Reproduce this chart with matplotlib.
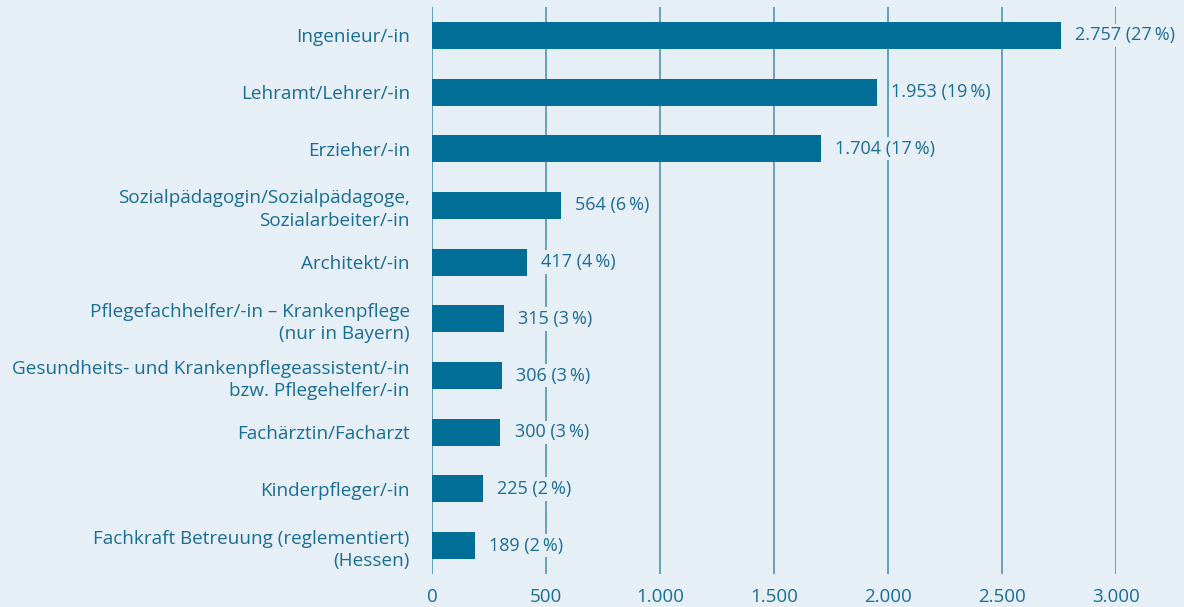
import matplotlib.pyplot as plt

# Daten aus der Grafik
berufe = [
    'Ingenieur/-in',
    'Lehramt/Lehrer/-in',
    'Erzieher/-in',
    'Sozialpädagogin/Sozialpädagoge,\nSozialarbeiter/-in',
    'Architekt/-in',
    'Pflegefachhelfer/-in – Krankenpflege\n(nur in Bayern)',
    'Gesundheits- und Krankenpflegeassistent/-in\nbzw. Pflegehelfer/-in',
    'Fachärztin/Facharzt',
    'Kinderpfleger/-in',
    'Fachkraft Betreuung (reglementiert)\n(Hessen)',
]
anzahl = [2757, 1953, 1704, 564, 417, 315, 306, 300, 225, 189]
anteil = [27, 19, 17, 6, 4, 3, 3, 3, 2, 2]
xticks = [0, 500, 1000, 1500, 2000, 2500, 3000]
xticklabels = ['0', '500', '1.000', '1.500', '2.000', '2.500', '3.000']

bg = '#e6eef6'
balken = '#006e96'
schrift = '#1a6e96'
gitter = '#3f8aae'

plt.rcParams['font.family'] = ['Open Sans', 'DejaVu Sans']

fig = plt.figure(figsize=(11.84, 6.07), dpi=100, facecolor=bg)
ax = fig.add_axes([432/1184, 1-574/607, 684/1184, 567/607])
ax.set_facecolor(bg)

pos = list(range(len(berufe)))
ax.barh(pos, anzahl, height=0.475, color=balken, zorder=3)

for x in xticks:
    ax.axvline(x, color=gitter, lw=1.1, zorder=1)

for i, (n, p) in enumerate(zip(anzahl, anteil)):
    txt = f'{n:,}'.replace(',', '.') + f' ({p}\u2009%)'
    ax.text(n + 62, i, txt, va='center', ha='left', fontsize=13, color=schrift,
            zorder=4, bbox=dict(facecolor=bg, edgecolor='none', pad=2))

ax.set_xlim(0, 3000)
ax.set_ylim(9.5, -0.5)
ax.set_yticks(pos)
ax.set_yticklabels(berufe, fontsize=13.6, color=schrift, linespacing=1.3)
ax.set_xticks(xticks)
ax.set_xticklabels(xticklabels, fontsize=13.5, color=schrift)
ax.tick_params(axis='both', length=0)
ax.tick_params(axis='y', pad=16)
ax.tick_params(axis='x', pad=10)
for s in ax.spines.values():
    s.set_visible(False)

plt.savefig('out.png', dpi=100, facecolor=bg)
